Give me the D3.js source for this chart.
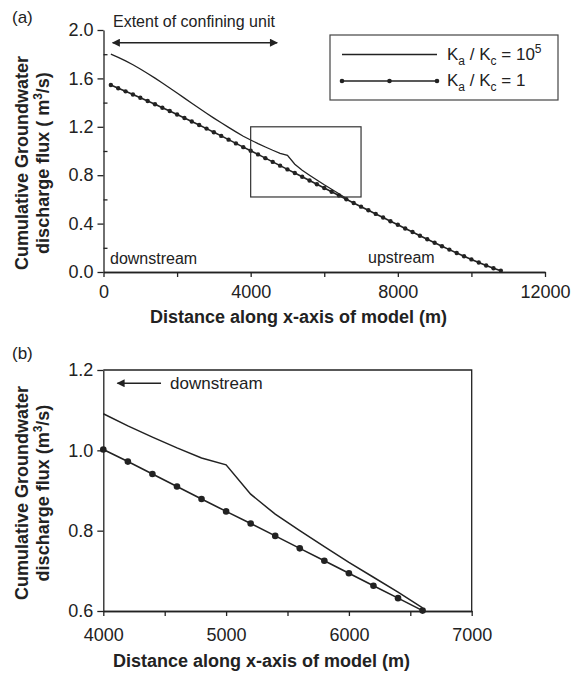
<!DOCTYPE html>
<html>
<head>
<meta charset="utf-8">
<script src="https://cdn.jsdelivr.net/npm/d3@7"></script>
<style>
  body { margin: 0; background: #fff; }
  svg { font-family: "Liberation Sans", Arial, Helvetica, sans-serif; }
  .axis path, .axis line { stroke: #222; stroke-width: 1.3; }
  .axis text { fill: #222; font-size: 18px; }
</style>
</head>
<body>
<script>
// distance along x-axis of model (m)
var dist = [200, 400, 600, 800, 1000, 1200, 1400, 1600, 1800, 2000,
  2200, 2400, 2600, 2800, 3000, 3200, 3400, 3600, 3800, 4000,
  4200, 4400, 4600, 4800, 5000, 5200, 5400, 5600, 5800, 6000,
  6200, 6400, 6600, 6800, 7000, 7200, 7400, 7600, 7800, 8000,
  8200, 8400, 8600, 8800, 9000, 9200, 9400, 9600, 9800, 10000,
  10200, 10400, 10600, 10800];

// Ka / Kc = 1 (dotted series)
var fluxK1 = [1.545, 1.519, 1.493, 1.467, 1.440, 1.413, 1.386, 1.358, 1.330, 1.302,
  1.273, 1.244, 1.215, 1.185, 1.155, 1.125, 1.094, 1.063, 1.032, 1.002,
  0.972, 0.941, 0.910, 0.879, 0.848, 0.818, 0.787, 0.756, 0.725, 0.694,
  0.663, 0.632, 0.601, 0.570, 0.540, 0.510, 0.480, 0.450, 0.420, 0.390,
  0.360, 0.330, 0.300, 0.271, 0.242, 0.213, 0.185, 0.157, 0.130, 0.104,
  0.078, 0.054, 0.031, 0.010];

// Ka / Kc = 10^5 (solid line), joins the other curve at 6600 m
var fluxK5 = [1.800, 1.774, 1.745, 1.713, 1.678, 1.641, 1.602, 1.562, 1.521, 1.479,
  1.437, 1.395, 1.353, 1.312, 1.272, 1.233, 1.195, 1.158, 1.122, 1.091,
  1.061, 1.033, 1.006, 0.981, 0.964, 0.891, 0.841, 0.800, 0.760, 0.721,
  0.684, 0.647, 0.608];

var xTicksA = [0, 4000, 8000, 12000];
var xMinorA = [2000, 6000, 10000];
var yTicksA = [0, 0.4, 0.8, 1.2, 1.6, 2.0];
var yMinorA = [0.2, 0.6, 1.0, 1.4, 1.8];
var xTicksB = [4000, 5000, 6000, 7000];
var xMinorB = [4500, 5500, 6500];
var yTicksB = [0.6, 0.8, 1.0, 1.2];

// zoom window shown in (b)
var zoomX = [4000, 7000];
var zoomY = [0.62, 1.2];
// extent of confining unit arrow (m) and its height
var confining = [250, 4720];
var confiningY = 1.895;
// downstream arrow in (b)
var downArrow = [4470, 4115];
var downArrowY = 1.167;

var ink = '#222';

var svg = d3.select('body').append('svg')
  .attr('width', 581)
  .attr('height', 675);

var defs = svg.append('defs');
defs.append('marker')
  .attr('id', 'head')
  .attr('viewBox', '0 0 10 10')
  .attr('refX', 9).attr('refY', 5)
  .attr('markerWidth', 11).attr('markerHeight', 8)
  .attr('markerUnits', 'userSpaceOnUse')
  .attr('orient', 'auto-start-reverse')
  .append('path')
  .attr('d', 'M0,0 L10,5 L0,10 Z')
  .attr('fill', ink);

var ptsK1 = dist.map(function(d, i) { return [d, fluxK1[i]]; });
var ptsK5 = fluxK5.map(function(v, i) { return [dist[i], v]; });

function label(x, y, txt, size, weight) {
  return svg.append('text')
    .attr('x', x).attr('y', y)
    .attr('fill', ink)
    .style('font-size', size + 'px')
    .style('font-weight', weight || 'normal')
    .text(txt);
}

function yTitle(cy, x1, x2, unitSpace) {
  var g = svg.append('g').attr('transform', 'translate(0,' + cy + ') rotate(-90)');
  g.append('text').attr('x', 0).attr('y', x1)
    .attr('text-anchor', 'middle')
    .style('font-size', '18px').style('font-weight', 'bold').attr('fill', ink)
    .text('Cumulative Groundwater');
  var t = g.append('text').attr('x', 0).attr('y', x2)
    .attr('text-anchor', 'middle')
    .style('font-size', '18px').style('font-weight', 'bold').attr('fill', ink);
  t.append('tspan').text('discharge flux (' + unitSpace + 'm');
  t.append('tspan').attr('dy', -7).style('font-size', '12px').text('3');
  t.append('tspan').attr('dy', 7).text('/s)');
}

// ---------- panel (a) ----------
var xA = d3.scaleLinear().domain([0, 12000]).range([103.5, 545]);
var yA = d3.scaleLinear().domain([0, 2]).range([272, 30]);

var gA = svg.append('g');

gA.append('g').attr('class', 'axis')
  .attr('transform', 'translate(0,' + yA(0) + ')')
  .call(d3.axisBottom(xA).tickValues(xMinorA).tickSize(5).tickSizeOuter(0).tickFormat(''));
gA.append('g').attr('class', 'axis')
  .attr('transform', 'translate(0,' + yA(0) + ')')
  .call(d3.axisBottom(xA).tickValues(xTicksA).tickSize(5).tickSizeOuter(0).tickFormat(d3.format('d')))
  .selectAll('text').attr('y', 26).attr('dy', 0);

gA.append('g').attr('class', 'axis')
  .attr('transform', 'translate(' + xA(0) + ',0)')
  .call(d3.axisRight(yA).tickValues(yMinorA).tickSize(4).tickSizeOuter(0).tickFormat(''))
  .select('.domain').remove();
gA.append('g').attr('class', 'axis')
  .attr('transform', 'translate(' + xA(0) + ',0)')
  .call(d3.axisLeft(yA).tickValues(yTicksA).tickSize(6).tickSizeOuter(0).tickFormat(d3.format('.1f')))
  .selectAll('text').attr('x', -10);

var lineA = d3.line().x(function(d) { return xA(d[0]); }).y(function(d) { return yA(d[1]); });

gA.append('path').datum(ptsK1)
  .attr('d', lineA).attr('fill', 'none').attr('stroke', ink).attr('stroke-width', 1.6);
gA.selectAll('.dotA').data(ptsK1).enter().append('circle')
  .attr('class', 'dotA')
  .attr('cx', function(d) { return xA(d[0]); })
  .attr('cy', function(d) { return yA(d[1]); })
  .attr('r', 2.2).attr('fill', ink);
gA.append('path').datum(ptsK5)
  .attr('d', lineA).attr('fill', 'none').attr('stroke', ink).attr('stroke-width', 1.3);

// zoom rectangle
gA.append('rect')
  .attr('x', xA(zoomX[0])).attr('y', yA(zoomY[1]))
  .attr('width', xA(zoomX[1]) - xA(zoomX[0]))
  .attr('height', yA(zoomY[0]) - yA(zoomY[1]))
  .attr('fill', 'none').attr('stroke', '#333').attr('stroke-width', 1.2);

// extent of confining unit
gA.append('line')
  .attr('x1', xA(confining[0])).attr('x2', xA(confining[1]))
  .attr('y1', yA(confiningY)).attr('y2', yA(confiningY))
  .attr('stroke', ink).attr('stroke-width', 1.5)
  .attr('marker-start', 'url(#head)').attr('marker-end', 'url(#head)');
label(113, 27, 'Extent of confining unit', 16);

label(110, 264, 'downstream', 16);
label(368, 263, 'upstream', 16);
label(12, 23, '(a)', 17);

// legend
var leg = gA.append('g');
leg.append('rect').attr('x', 330).attr('y', 35).attr('width', 228).attr('height', 65)
  .attr('fill', '#fff').attr('stroke', '#444').attr('stroke-width', 1.2);
leg.append('line').attr('x1', 342).attr('x2', 437).attr('y1', 54.5).attr('y2', 54.5)
  .attr('stroke', ink).attr('stroke-width', 1.3);
leg.append('line').attr('x1', 342).attr('x2', 437).attr('y1', 81).attr('y2', 81)
  .attr('stroke', ink).attr('stroke-width', 1.5);
leg.selectAll('circle').data([342, 389.5, 437]).enter().append('circle')
  .attr('cx', function(d) { return d; }).attr('cy', 81).attr('r', 2.3).attr('fill', ink);

function legText(y, exp, val) {
  var t = leg.append('text').attr('x', 447).attr('y', y).attr('fill', ink).style('font-size', '17px');
  t.append('tspan').text('K');
  t.append('tspan').attr('dy', 5).style('font-size', '12px').text('a');
  t.append('tspan').attr('dy', -5).text(' / K');
  t.append('tspan').attr('dy', 5).style('font-size', '12px').text('c');
  t.append('tspan').attr('dy', -5).text(' = ' + val);
  if (exp) t.append('tspan').attr('dy', -7).style('font-size', '12px').text(exp);
}
legText(59.5, '5', '10');
legText(86, null, '1');

yTitle(163, 28, 49, ' ');
label(150, 323, 'Distance along x-axis of model (m)', 18, 'bold');

// ---------- panel (b) ----------
var xB = d3.scaleLinear().domain([4000, 7000]).range([103.3, 471.7]);
var yB = d3.scaleLinear().domain([0.6, 1.2]).range([611, 370]);

var gB = svg.append('g');

// frame (top and right)
gB.append('path')
  .attr('d', 'M' + xB(4000) + ',' + yB(1.2) + 'H' + xB(7000) + 'V' + yB(0.6))
  .attr('fill', 'none').attr('stroke', ink).attr('stroke-width', 1.3);

gB.append('g').attr('class', 'axis')
  .attr('transform', 'translate(0,' + yB(0.6) + ')')
  .call(d3.axisBottom(xB).tickValues(xMinorB).tickSize(5).tickSizeOuter(0).tickFormat(''));
gB.append('g').attr('class', 'axis')
  .attr('transform', 'translate(0,' + yB(0.6) + ')')
  .call(d3.axisBottom(xB).tickValues(xTicksB).tickSize(5).tickSizeOuter(0).tickFormat(d3.format('d')))
  .selectAll('text').attr('y', 30).attr('dy', 0);
gB.append('g').attr('class', 'axis')
  .attr('transform', 'translate(' + xB(4000) + ',0)')
  .call(d3.axisLeft(yB).tickValues(yTicksB).tickSize(6).tickSizeOuter(0).tickFormat(d3.format('.1f')))
  .selectAll('text').attr('x', -10);

var inB = function(d) { return d[0] >= zoomX[0] && d[0] <= 6600; };
var ptsB1 = ptsK1.filter(inB);
var ptsB5 = ptsK5.filter(inB);

var lineB = d3.line().x(function(d) { return xB(d[0]); }).y(function(d) { return yB(d[1]); });

gB.append('path').datum(ptsB1)
  .attr('d', lineB).attr('fill', 'none').attr('stroke', ink).attr('stroke-width', 1.6);
gB.selectAll('.dotB').data(ptsB1).enter().append('circle')
  .attr('class', 'dotB')
  .attr('cx', function(d) { return xB(d[0]); })
  .attr('cy', function(d) { return yB(d[1]); })
  .attr('r', 3.3).attr('fill', ink);
gB.append('path').datum(ptsB5)
  .attr('d', lineB).attr('fill', 'none').attr('stroke', ink).attr('stroke-width', 1.5);

gB.append('line')
  .attr('x1', xB(downArrow[0])).attr('x2', xB(downArrow[1]))
  .attr('y1', yB(downArrowY)).attr('y2', yB(downArrowY))
  .attr('stroke', ink).attr('stroke-width', 1.5)
  .attr('marker-end', 'url(#head)');
label(170, 389, 'downstream', 17);
label(12, 359, '(b)', 17);

yTitle(493, 28, 49, '');
label(113, 667, 'Distance along x-axis of model (m)', 18, 'bold');
</script>
</body>
</html>
